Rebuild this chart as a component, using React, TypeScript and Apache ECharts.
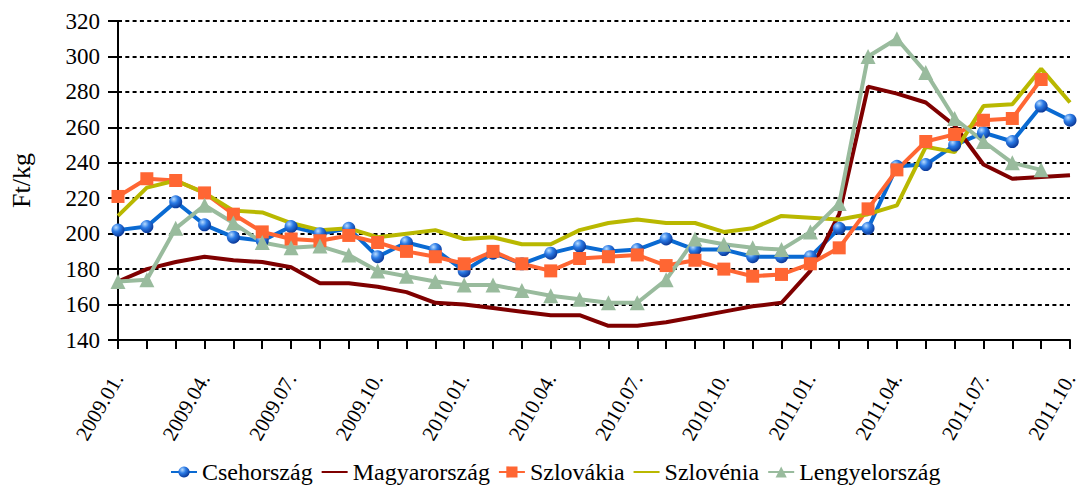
import React, { useEffect, useRef } from "react";
import * as echarts from "echarts";

const months = [
  "2009.01.", "2009.02.", "2009.03.", "2009.04.", "2009.05.", "2009.06.",
  "2009.07.", "2009.08.", "2009.09.", "2009.10.", "2009.11.", "2009.12.",
  "2010.01.", "2010.02.", "2010.03.", "2010.04.", "2010.05.", "2010.06.",
  "2010.07.", "2010.08.", "2010.09.", "2010.10.", "2010.11.", "2010.12.",
  "2011.01.", "2011.02.", "2011.03.", "2011.04.", "2011.05.", "2011.06.",
  "2011.07.", "2011.08.", "2011.09.", "2011.10.",
];

const csehorszag = [202, 204, 218, 205, 198, 196, 204, 200, 203, 187, 195, 191, 179, 189, 183, 189, 193, 190, 191, 197, 191, 191, 187, 187, 187, 203, 203, 238, 239, 250, 257, 252, 272, 264];
const magyarorszag = [173, 180, 184, 187, 185, 184, 181, 172, 172, 170, 167, 161, 160, 158, 156, 154, 154, 148, 148, 150, 153, 156, 159, 161, 179, 211, 283, 279, 274, 261, 239, 231, 232, 233];
const szlovakia = [221, 231, 230, 223, 211, 201, 197, 196, 199, 195, 190, 187, 183, 190, 183, 179, 186, 187, 188, 182, 185, 180, 176, 177, 183, 192, 214, 236, 252, 256, 264, 265, 287, null];
const szlovenia = [210, 226, 230, 223, 213, 212, 206, 202, 203, 198, 200, 202, 197, 198, 194, 194, 202, 206, 208, 206, 206, 201, 203, 210, 209, 208, 211, 216, 249, 246, 272, 273, 293, 274];
const lengyelorszag = [173, 174, 203, 216, 206, 195, 192, 193, 188, 179, 176, 173, 171, 171, 168, 165, 163, 161, 161, 174, 197, 194, 192, 191, 201, 217, 300, 310, 291, 265, 252, 240, 236, null];

const seriesNames = ["Csehország", "Magyarország", "Szlovákia", "Szlovénia", "Lengyelország"];
const yTicks = { min: 140, max: 320, interval: 20 };

const FONT = "Liberation Serif";
const CLEAR = "rgba(0,0,0,0)";

export default function App() {
  const ref = useRef<HTMLDivElement>(null);
  useEffect(() => {
    document.body.style.margin = "0";
    const chart = echarts.init(ref.current!, null, { renderer: "svg" });
    const blueGrad = new echarts.graphic.RadialGradient(0.35, 0.3, 0.7, [
      { offset: 0, color: "#b8dcff" },
      { offset: 0.45, color: "#2b7be6" },
      { offset: 1, color: "#0b3a9a" },
    ]);
    const lw = 4;
    chart.setOption({
      animation: false,
      grid: { left: 117, right: 11, top: 21, bottom: 145, containLabel: false },
      legend: {
        left: 165,
        top: 455,
        itemWidth: 26,
        itemHeight: 14,
        itemGap: 8,
        textStyle: { fontFamily: FONT, fontSize: 24, color: "#000" },
        data: seriesNames,
      },
      xAxis: {
        type: "category",
        boundaryGap: false,
        data: months,
        axisLine: { lineStyle: { color: "#000", width: 2 } },
        axisTick: { show: true, interval: 0, length: 9, lineStyle: { color: "#000", width: 2 } },
        axisLabel: {
          interval: 2,
          rotate: 60,
          margin: 35,
          fontFamily: FONT,
          fontSize: 21,
          color: "#000",
        },
        splitLine: { show: false },
      },
      yAxis: {
        type: "value",
        min: yTicks.min,
        max: yTicks.max,
        interval: yTicks.interval,
        name: "Ft/kg",
        nameLocation: "middle",
        nameGap: 84,
        nameRotate: 90,
        nameTextStyle: { fontFamily: FONT, fontSize: 26, color: "#000" },
        axisLine: { show: true, lineStyle: { color: "#000", width: 2 } },
        axisTick: { show: true, length: 10, lineStyle: { color: "#000", width: 2 } },
        axisLabel: { margin: 18, fontFamily: FONT, fontSize: 23, color: "#000" },
        splitLine: { show: true, lineStyle: { color: "#000", width: 2, type: [4, 3.3] } },
      },
      series: [
        {
          name: seriesNames[0],
          type: "line",
          data: csehorszag,
          symbol: "circle",
          symbolSize: 13,
          showSymbol: true,
          lineStyle: { color: "#0a6ad2", width: lw },
          itemStyle: { color: blueGrad, borderWidth: 0 },
        },
        {
          name: seriesNames[1],
          type: "line",
          data: magyarorszag,
          symbol: "circle",
          showSymbol: false,
          lineStyle: { color: "#7f0000", width: lw },
          itemStyle: { color: CLEAR, borderColor: CLEAR, borderWidth: 0 },
        },
        {
          name: seriesNames[2],
          type: "line",
          data: szlovakia,
          symbol: "rect",
          symbolSize: 13,
          lineStyle: { color: "#ff6633", width: lw },
          itemStyle: { color: "#ff6633", borderWidth: 0 },
        },
        {
          name: seriesNames[3],
          type: "line",
          data: szlovenia,
          symbol: "circle",
          showSymbol: false,
          lineStyle: { color: "#b9b800", width: lw },
          itemStyle: { color: CLEAR, borderColor: CLEAR, borderWidth: 0 },
        },
        {
          name: seriesNames[4],
          type: "line",
          data: lengyelorszag,
          symbol: "triangle",
          symbolSize: 15,
          lineStyle: { color: "#99bb9d", width: lw },
          itemStyle: { color: "#99bb9d", borderWidth: 0 },
        },
      ],
    });
    return () => chart.dispose();
  }, []);
  return <div ref={ref} style={{ width: 1081, height: 485 }} />;
}
